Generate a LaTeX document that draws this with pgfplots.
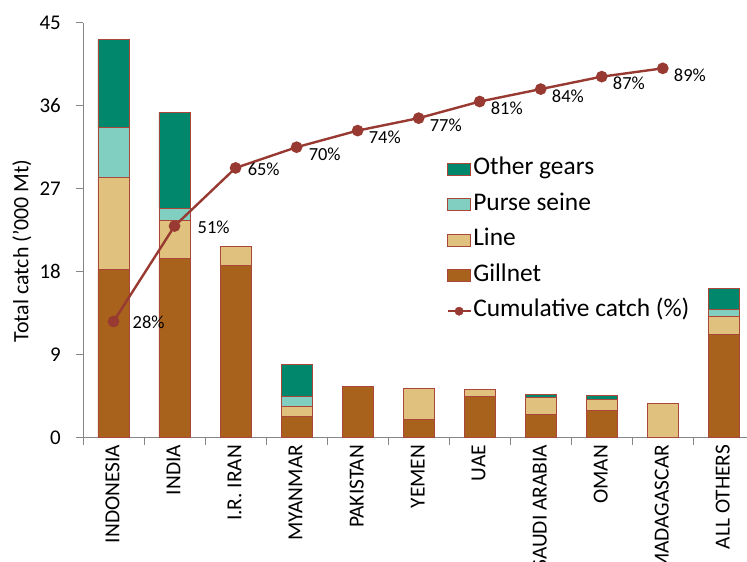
\documentclass[border=0pt]{standalone}
\usepackage{pgfplots}
\pgfplotsset{compat=1.18}
\usepackage{pgfplotstable}
\usepackage{fontspec}
\setmainfont{Carlito}
\definecolor{cOther}{RGB}{0,135,108}
\definecolor{cPurse}{RGB}{128,207,192}
\definecolor{cLine}{RGB}{224,194,126}
\definecolor{cGill}{RGB}{168,98,28}
\definecolor{cEdge}{RGB}{170,70,58}
\definecolor{cCum}{RGB}{152,58,50}
\definecolor{cAxis}{RGB}{134,134,134}

\pgfplotstableread{
x gill line purse other
0 18.2 10.0 5.4 9.6
1 19.45 4.15 1.25 10.4
2 18.7 2.0 0 0
3 2.28 1.08 1.09 3.45
4 5.6 0 0 0
5 2.0 3.35 0 0
6 4.5 0.75 0 0
7 2.5 1.9 0 0.3
8 3.0 1.1 0 0.5
9 0 3.7 0 0
10 11.2 2.0 0.7 2.3
}\gear

\pgfplotstableread{
x cum dx dy
0 28 18 -1
1 51 22 -1
2 65 11 -1
3 70 11 -7
4 74 10 -7
5 77 10 -7
6 81 10 -7
7 84 10 -7
8 87 10 -7
9 89 10 -7
}\cumtab

\begin{document}
\begin{tikzpicture}
\begin{axis}[
  at={(0,0)}, anchor=south west,
  scale only axis, width=664bp, height=415bp,
  xmin=-0.5, xmax=10.38, ymin=0, ymax=45,
  ybar stacked, bar width=0.51,
  axis x line*=bottom, axis y line*=left,
  axis line style={cAxis, line width=0.8pt, -},
  ytick={0,9,...,45},
  xtick={0,...,10},
  xticklabels={INDONESIA,INDIA,I.R. IRAN,MYANMAR,PAKISTAN,YEMEN,UAE,SAUDI ARABIA,OMAN,MADAGASCAR,ALL OTHERS},
  minor xtick={-0.5,0.5,...,9.5},
  major x tick style={draw=none},
  minor x tick style={cAxis, line width=0.8pt},
  major y tick style={cAxis, line width=0.8pt},
  tick align=outside,
  major tick length=7bp, minor tick length=7bp,
  /pgf/number format/assume math mode=true,
  yticklabel style={font=\fontsize{21}{25}\selectfont, inner sep=0pt, xshift=-15bp},
  xticklabel style={font=\fontsize{21.5}{25}\selectfont, rotate=90, anchor=east, inner sep=0pt, yshift=1bp},
  every axis y label/.style={at={(axis description cs:-0.092,0.45)}, rotate=90, anchor=center, font=\fontsize{22}{26}\selectfont},
  ylabel={Total catch ('000 Mt)},
  legend style={at={(0.547,0.680)}, anchor=north west, draw=none, fill=none,
    font=\fontsize{25.5}{29}\selectfont, inner sep=0pt, row sep=8.5bp,
    nodes={inner sep=1.5bp, text height=17.5bp, text depth=6.5bp}},
  legend cell align=left,
  clip=false,
]
\addplot+[forget plot, fill=cGill, draw=cEdge, line width=0.8pt] table[x=x, y=gill] {\gear};
\addplot+[forget plot, fill=cLine, draw=cEdge, line width=0.8pt] table[x=x, y=line] {\gear};
\addplot+[forget plot, fill=cPurse, draw=cEdge, line width=0.8pt] table[x=x, y=purse] {\gear};
\addplot+[forget plot, fill=cOther, draw=cEdge, line width=0.8pt] table[x=x, y=other] {\gear};
\addlegendimage{legend image code/.code={\draw[fill=cOther, draw=cEdge, line width=0.8pt] (0bp,-6bp) rectangle (23bp,6bp);}}
\addlegendentry{Other gears}
\addlegendimage{legend image code/.code={\draw[fill=cPurse, draw=cEdge, line width=0.8pt] (0bp,-6bp) rectangle (23bp,6bp);}}
\addlegendentry{Purse seine}
\addlegendimage{legend image code/.code={\draw[fill=cLine, draw=cEdge, line width=0.8pt] (0bp,-6bp) rectangle (23bp,6bp);}}
\addlegendentry{Line}
\addlegendimage{legend image code/.code={\draw[fill=cGill, draw=cEdge, line width=0.8pt] (0bp,-6bp) rectangle (23bp,6bp);}}
\addlegendentry{Gillnet}
\addlegendimage{legend image code/.code={\draw[cCum, line width=2.4bp] (0bp,0bp) -- (23bp,0bp); \fill[cCum] (11.5bp,0bp) circle (4.2bp);}}
\addlegendentry{Cumulative catch (\%)}
\end{axis}
\begin{axis}[
  at={(0,0)}, anchor=south west,
  scale only axis, width=664bp, height=415bp,
  xmin=-0.5, xmax=10.38, ymin=0, ymax=100,
  hide axis, clip=false,
  /pgf/number format/assume math mode=true,
]
\addplot[cCum, line width=2.4bp, mark=*, mark size=4.6bp, mark options={fill=cCum, draw=cCum},
  nodes near coords={\pgfmathprintnumber{\pgfplotspointmeta}\%},
  point meta=explicit,
  visualization depends on={\thisrow{dx} \as \ldx},
  visualization depends on={\thisrow{dy} \as \ldy},
  every node near coord/.append style={anchor=west, inner sep=0pt, text=black,
    font=\fontsize{18.5}{22}\selectfont, xshift=\ldx bp, yshift=\ldy bp},
] table[x=x, y=cum, meta=cum] {\cumtab};
\end{axis}
\pgfresetboundingbox
\path[use as bounding box] (-83bp,-124.3bp) rectangle (664bp,437.7bp);
\end{tikzpicture}
\end{document}
